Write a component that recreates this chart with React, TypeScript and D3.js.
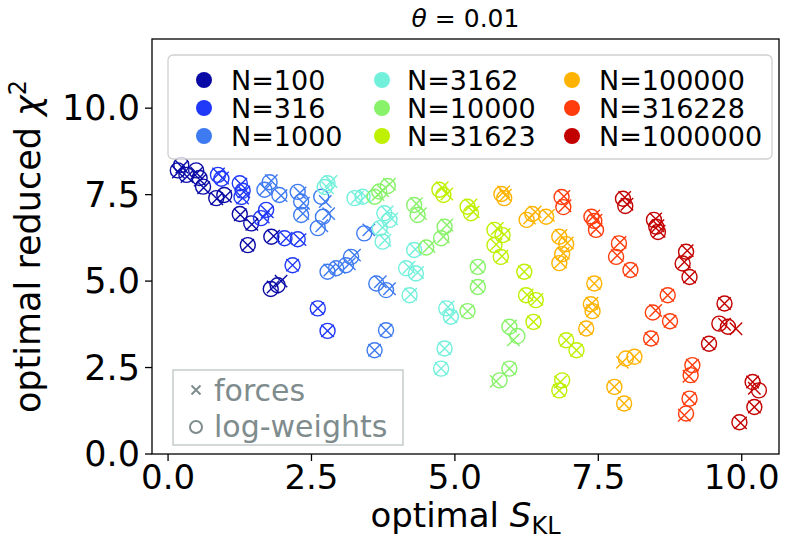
import React from 'react';
import * as d3 from 'd3';

const W = 792;
const H = 548;

const N_LABELS = ['N=100', 'N=316', 'N=1000', 'N=3162', 'N=10000', 'N=31623', 'N=100000', 'N=316228', 'N=1000000'];
const N_COLORS = ['#0a0aa6', '#2038f8', '#3f7bf0', '#72f0dc', '#88f26a', '#bef000', '#ffb300', '#ff3c0c', '#c30000'];

// each point: [S_KL log-weights, chi2 log-weights, S_KL forces, chi2 forces]
const N100 = [
  [0.23, 8.36, 0.24, 8.30], [0.17, 8.20, 0.18, 8.15], [0.32, 8.07, 0.33, 8.02], [0.49, 8.20, 0.50, 8.12],
  [0.55, 7.98, 0.56, 7.92], [0.61, 7.73, 0.62, 7.70], [0.84, 7.40, 0.85, 7.38], [0.98, 7.49, 1.00, 7.45],
  [1.25, 6.94, 1.26, 6.92], [1.45, 6.67, 1.46, 6.64], [1.39, 6.04, 1.39, 6.04], [1.80, 6.28, 1.84, 6.30],
  [1.79, 4.77, 1.83, 4.83], [1.91, 4.88, 1.97, 5.00],
];
const N316 = [
  [0.87, 8.07, 0.88, 8.10], [0.93, 7.96, 0.95, 7.98], [1.25, 7.83, 1.27, 7.80], [1.30, 7.61, 1.32, 7.58],
  [1.28, 7.43, 1.30, 7.40], [1.71, 7.06, 1.73, 7.00], [1.62, 6.82, 1.66, 6.85], [2.03, 6.24, 2.06, 6.24],
  [2.26, 6.21, 2.30, 6.20], [2.17, 5.46, 2.17, 5.46], [2.61, 4.21, 2.61, 4.21], [2.78, 3.56, 2.78, 3.56],
];
const N1000 = [
  [1.77, 7.86, 1.80, 7.90], [1.68, 7.64, 1.70, 7.66], [1.94, 7.49, 1.97, 7.47], [2.26, 7.58, 2.30, 7.55],
  [2.32, 7.30, 2.36, 7.25], [2.32, 6.91, 2.35, 6.95], [2.67, 7.44, 2.74, 7.30], [2.70, 6.86, 2.80, 6.95],
  [2.61, 6.53, 2.68, 6.60], [2.78, 5.27, 2.82, 5.32], [2.93, 5.37, 2.98, 5.40], [3.10, 5.46, 3.16, 5.50],
  [3.19, 5.70, 3.25, 5.75], [3.42, 6.38, 3.50, 6.48], [3.63, 4.93, 3.70, 4.98], [3.80, 4.74, 3.86, 4.78],
  [3.80, 3.58, 3.80, 3.58], [3.60, 3.00, 3.60, 3.00],
];
const N3162 = [
  [2.78, 7.83, 2.84, 7.88], [2.73, 7.72, 2.78, 7.70], [3.25, 7.40, 3.30, 7.42], [3.39, 7.44, 3.44, 7.45],
  [3.77, 6.96, 3.82, 7.00], [3.86, 6.77, 3.90, 6.80], [3.69, 6.53, 3.74, 6.55], [3.74, 6.14, 3.78, 6.18],
  [4.29, 5.90, 4.31, 5.92], [4.15, 5.37, 4.20, 5.40], [4.32, 5.22, 4.35, 5.25], [4.21, 4.59, 4.23, 4.62],
  [4.85, 4.21, 4.88, 4.25], [4.93, 3.97, 4.93, 3.97], [4.82, 3.05, 4.82, 3.05], [4.76, 2.47, 4.76, 2.47],
];
const N10000 = [
  [3.68, 7.59, 3.74, 7.62], [3.60, 7.44, 3.66, 7.50], [3.83, 7.75, 3.86, 7.80], [4.29, 7.20, 4.33, 7.24],
  [4.35, 6.91, 4.40, 6.95], [4.82, 6.57, 4.86, 6.62], [4.76, 6.24, 4.80, 6.28], [4.50, 5.97, 4.55, 6.00],
  [5.40, 5.41, 5.40, 5.41], [5.40, 4.83, 5.40, 4.85], [5.22, 4.13, 5.22, 4.13], [5.95, 3.68, 5.97, 3.70],
  [6.09, 3.41, 6.02, 3.30], [5.95, 2.47, 5.95, 2.47], [5.78, 2.13, 5.72, 2.10],
];
const N31623 = [
  [4.73, 7.64, 4.78, 7.70], [4.80, 7.49, 4.86, 7.52], [5.22, 7.15, 5.28, 7.20], [5.28, 6.96, 5.32, 7.00],
  [5.69, 6.48, 5.74, 6.52], [5.83, 6.33, 5.86, 6.35], [5.69, 6.04, 5.72, 6.06], [5.80, 5.70, 5.82, 5.72],
  [6.21, 5.27, 6.21, 5.27], [6.24, 4.59, 6.26, 4.60], [6.41, 4.45, 6.43, 4.47], [6.37, 3.82, 6.37, 3.82],
  [6.94, 3.29, 6.94, 3.29], [7.12, 3.00, 7.12, 3.00], [6.87, 2.13, 6.84, 2.08], [6.82, 1.84, 6.82, 1.84],
];
const N100000 = [
  [5.81, 7.52, 5.85, 7.58], [5.86, 7.40, 5.88, 7.48], [6.35, 6.94, 6.40, 7.00], [6.25, 6.77, 6.30, 6.82],
  [6.59, 6.86, 6.63, 6.90], [6.82, 6.28, 6.85, 6.32], [6.94, 6.07, 6.96, 6.10], [6.87, 5.78, 6.89, 5.80],
  [6.82, 5.52, 6.84, 5.55], [7.43, 4.93, 7.43, 4.93], [7.37, 4.33, 7.39, 4.36], [7.40, 4.13, 7.40, 4.15],
  [7.29, 3.63, 7.29, 3.63], [7.98, 2.76, 7.92, 2.65], [8.13, 2.81, 8.13, 2.81], [7.78, 1.94, 7.78, 1.94],
  [7.95, 1.46, 7.95, 1.46],
];
const N316228 = [
  [6.86, 7.43, 6.90, 7.45], [6.89, 7.14, 6.92, 7.18], [7.38, 6.86, 7.42, 6.88], [7.43, 6.74, 7.46, 6.76],
  [7.46, 6.48, 7.46, 6.50], [7.86, 6.09, 7.88, 6.12], [7.81, 5.70, 7.83, 5.74], [8.06, 5.32, 8.06, 5.32],
  [8.71, 4.59, 8.71, 4.59], [8.45, 4.09, 8.50, 4.15], [8.75, 3.84, 8.75, 3.84], [8.42, 3.34, 8.42, 3.34],
  [9.14, 2.57, 9.14, 2.57], [9.11, 2.28, 9.08, 2.25], [9.09, 1.60, 9.09, 1.60], [9.03, 1.17, 9.00, 1.12],
];
const N1000000 = [
  [7.93, 7.38, 7.96, 7.42], [7.97, 7.17, 8.00, 7.22], [8.47, 6.77, 8.50, 6.80], [8.51, 6.57, 8.54, 6.60],
  [8.54, 6.42, 8.56, 6.44], [9.03, 5.85, 9.05, 5.88], [8.97, 5.51, 9.00, 5.55], [9.09, 5.12, 9.09, 5.12],
  [9.70, 4.35, 9.70, 4.35], [9.61, 3.77, 9.70, 3.75], [9.76, 3.68, 9.90, 3.62], [9.43, 3.19, 9.43, 3.19],
  [10.19, 2.08, 10.19, 2.08], [10.30, 1.84, 10.22, 1.90], [10.22, 1.36, 10.22, 1.36], [9.96, 0.92, 9.98, 0.90],
];

const SERIES = [N100, N316, N1000, N3162, N10000, N31623, N100000, N316228, N1000000];
const X_TICKS = [0, 2.5, 5, 7.5, 10];
const Y_TICKS = [0, 2.5, 5, 7.5, 10];
const MARKER_LABELS = ['forces', 'log-weights'];

const FONT = 'DejaVu Sans, sans-serif';

export default function App() {
  const left = 152, right = 779, top = 39, bottom = 454;
  const x = d3.scaleLinear().domain([-0.28, 10.65]).range([left, right]);
  const y = d3.scaleLinear().domain([0, 12]).range([bottom, top]);
  const fmt = d3.format('.1f');
  const r = 7.5;
  const h = 6.2;

  // top legend layout
  const legCols = [204, 382, 572];
  const legText = [231, 407, 599];
  const legRows = [80, 108, 136];
  const gray = '#7f8c8d';

  return (
    <svg width={W} height={H} style={{ position: 'absolute', left: 0, top: 0, background: '#fff' }} fontFamily={FONT}>
      <rect x={0} y={0} width={W} height={H} fill="#fff" />
      {/* title */}
      <text x={(left + right) / 2} y={27} textAnchor="middle" fontSize={25} fill="#000">
        <tspan fontStyle="italic">θ</tspan> = 0.01
      </text>

      {/* points */}
      <g>
        {SERIES.map((pts, si) => (
          <g key={si} stroke={N_COLORS[si]} fill="none" strokeWidth={1.4}>
            {pts.map((p, i) => {
              const fx = x(p[2]), fy = y(p[3]);
              return (
                <path key={'f' + i} d={`M${fx - h},${fy - h}L${fx + h},${fy + h}M${fx - h},${fy + h}L${fx + h},${fy - h}`} />
              );
            })}
            {pts.map((p, i) => (
              <circle key={'c' + i} cx={x(p[0])} cy={y(p[1])} r={r} />
            ))}
          </g>
        ))}
      </g>

      {/* frame */}
      <rect x={left} y={top} width={right - left} height={bottom - top} fill="none" stroke="#000" strokeWidth={1.3} />

      {/* x ticks */}
      {X_TICKS.map((t) => (
        <g key={'x' + t}>
          <line x1={x(t)} x2={x(t)} y1={bottom} y2={bottom + 7} stroke="#000" strokeWidth={1.3} />
          <text x={x(t)} y={bottom + 35} textAnchor="middle" fontSize={34} fill="#000">{fmt(t)}</text>
        </g>
      ))}
      {/* y ticks */}
      {Y_TICKS.map((t) => (
        <g key={'y' + t}>
          <line x1={left - 7} x2={left} y1={y(t)} y2={y(t)} stroke="#000" strokeWidth={1.3} />
          <text x={left - 12} y={y(t) + 12} textAnchor="end" fontSize={35} fill="#000">{fmt(t)}</text>
        </g>
      ))}

      {/* axis labels */}
      <text x={(left + right) / 2} y={527} textAnchor="middle" fontSize={34} fill="#000">
        optimal <tspan fontStyle="italic">S</tspan><tspan fontSize={24} dy={7}>KL</tspan>
      </text>
      <text transform={`translate(40,${(top + bottom) / 2}) rotate(-90)`} textAnchor="middle" fontSize={35} fill="#000">
        optimal reduced <tspan fontStyle="italic">χ</tspan><tspan fontSize={24} dy={-14}>2</tspan>
      </text>

      {/* top legend */}
      <rect x={168} y={55} width={604} height={104} rx={5} fill="#fff" fillOpacity={0.8} stroke="#d0d0d0" strokeWidth={1.3} />
      {N_LABELS.map((lab, i) => {
        const c = Math.floor(i / 3), rr = i % 3;
        return (
          <g key={lab}>
            <circle cx={legCols[c]} cy={legRows[rr]} r={8} fill={N_COLORS[i]} />
            <text x={legText[c]} y={legRows[rr] + 9.8} fontSize={27} fill="#000">{lab}</text>
          </g>
        );
      })}

      {/* bottom legend */}
      <rect x={173} y={370} width={230} height={75} fill="#fff" fillOpacity={0.8} stroke="#c5cccc" strokeWidth={1.5} />
      <path d={`M${196 - 4.5},${390 - 4.5}L${196 + 4.5},${390 + 4.5}M${196 - 4.5},${390 + 4.5}L${196 + 4.5},${390 - 4.5}`} stroke={gray} strokeWidth={2} />
      <text x={214} y={401} fontSize={30} fill={gray}>{MARKER_LABELS[0]}</text>
      <circle cx={196} cy={427} r={6} fill="none" stroke={gray} strokeWidth={2} />
      <text x={214} y={437} fontSize={30} fill={gray}>{MARKER_LABELS[1]}</text>
    </svg>
  );
}
